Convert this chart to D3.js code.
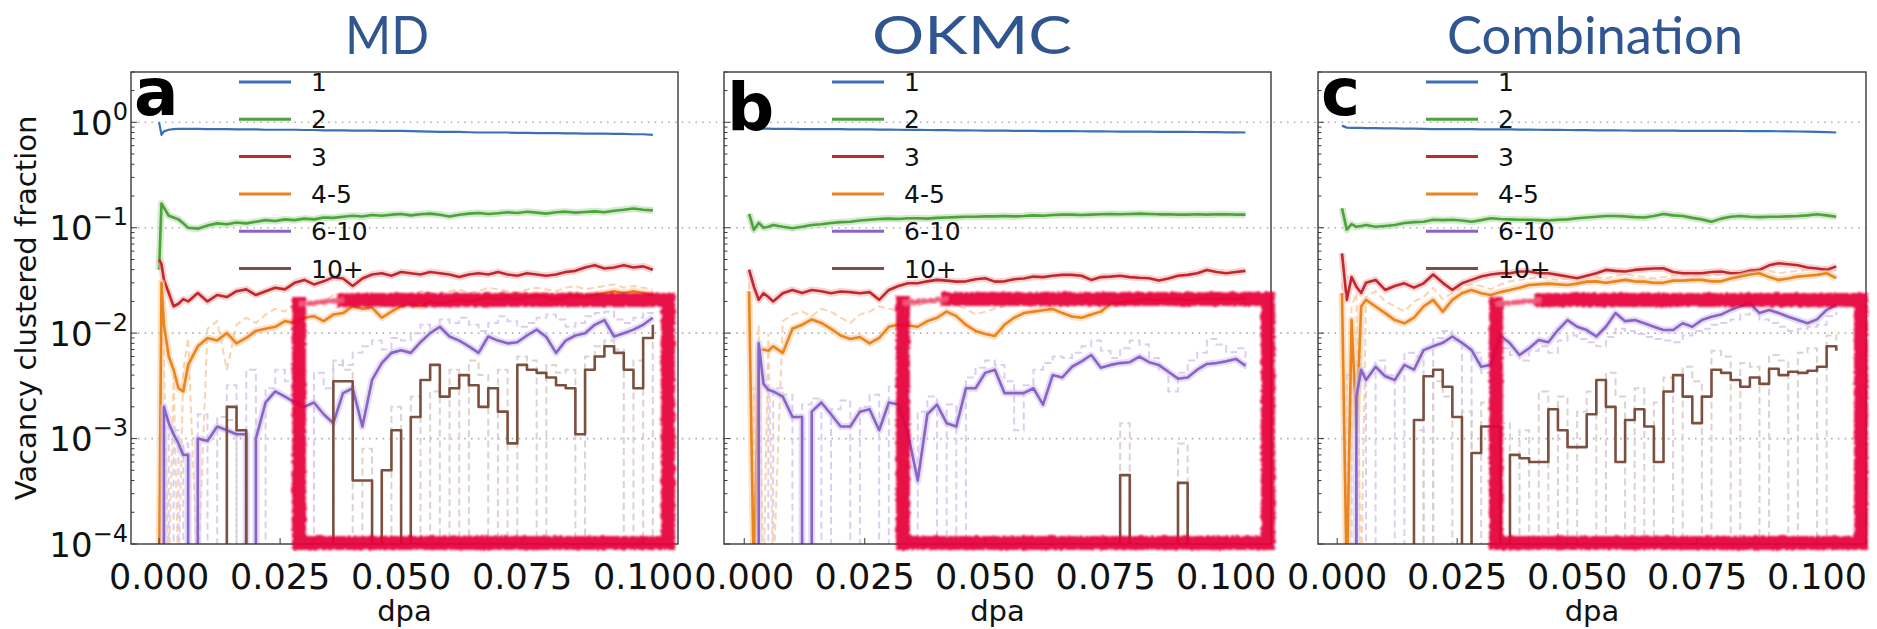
<!DOCTYPE html>
<html><head><meta charset="utf-8">
<script src="https://cdn.jsdelivr.net/npm/d3@7"></script>
<style>
html,body{margin:0;padding:0;background:#fff;}
svg{display:block;}
</style></head><body>
<svg id="chart" width="1877" height="629"></svg>
<script>
// ---------------- DATA ----------------
const panelTitles = ["MD", "OKMC", "Combination"];
const panelLetters = ["a", "b", "c"];
const seriesNames = ["1", "2", "3", "4-5", "6-10", "10+"];
const xTickValues = [0, 0.025, 0.05, 0.075, 0.1];
const xTickLabels = ["0.000", "0.025", "0.050", "0.075", "0.100"];
const yTickExponents = [0, -1, -2, -3, -4];
const yTickLabels = ["0", "\u22121", "\u22122", "\u22123", "\u22124"];

// dpa sampling positions (shared by all series)
const dpa = [0,0.0005,0.001,0.002,0.003,0.004,0.005,0.006,0.008,0.010,0.012,0.014,0.016,0.018,0.020,0.022,0.024,0.026,0.028,0.030,0.032,0.034,0.036,0.038,0.040,0.042,0.044,0.046,0.048,0.050,0.052,0.054,0.056,0.058,0.060,0.062,0.064,0.066,0.068,0.070,0.072,0.074,0.076,0.078,0.080,0.082,0.084,0.086,0.088,0.090,0.092,0.094,0.096,0.098,0.100,0.102,0.104];

// ---- MD (a) : averaged fractions ----
const mdS1 = [1.0,0.76,0.82,0.85,0.86,0.865,0.865,0.865,0.865,0.86, 0.86,0.86,0.855,0.855,0.855,0.85,0.85,0.85,0.85,0.845, 0.845,0.84,0.84,0.84,0.835,0.835,0.835,0.83,0.83,0.83, 0.825,0.82,0.815,0.81,0.81,0.81,0.805,0.80,0.80,0.80, 0.80,0.795,0.795,0.79,0.79,0.79,0.785,0.785,0.78,0.78, 0.78,0.775,0.775,0.77,0.77,0.76];
const mdS2 = [0.04,0.17,0.155,0.13,0.125,0.12,0.11,0.10,0.098,0.105, 0.11,0.108,0.112,0.11,0.114,0.118,0.116,0.12,0.118,0.122, 0.12,0.125,0.124,0.127,0.13,0.128,0.132,0.13,0.133,0.135, 0.131,0.134,0.136,0.133,0.128,0.133,0.136,0.138,0.135,0.137, 0.14,0.138,0.142,0.139,0.136,0.14,0.142,0.139,0.141,0.143, 0.14,0.145,0.148,0.152,0.148,0.146];
const mdS3 = [0.05,0.045,0.032,0.024,0.018,0.019,0.021,0.02,0.024,0.02, 0.023,0.022,0.025,0.026,0.023,0.025,0.027,0.026,0.03,0.032, 0.029,0.031,0.034,0.033,0.028,0.033,0.036,0.037,0.035,0.038, 0.037,0.036,0.038,0.037,0.036,0.034,0.036,0.037,0.036,0.038, 0.036,0.035,0.037,0.036,0.035,0.036,0.038,0.039,0.042,0.044, 0.041,0.042,0.044,0.042,0.043,0.040];
const mdS45 = [0,0.03,0.012,0.006,0.0045,0.003,0.0028,0.005,0.0075,0.009, 0.0085,0.01,0.008,0.009,0.0105,0.011,0.0115,0.013,0.0125,0.014, 0.0145,0.013,0.015,0.0155,0.018,0.017,0.0175,0.014,0.016,0.018, 0.019,0.018,0.02,0.019,0.02,0.021,0.02,0.021,0.022,0.021, 0.022,0.021,0.022,0.023,0.022,0.021,0.022,0.023,0.022,0.023, 0.024,0.025,0.024,0.025,0.024,0.023];
const mdS610 = [0,0,0.002,0.0014,0.0011,0.0009,0.0007,0,0.001,0.00095, 0.0013,0.0012,0.0011,0,0.001,0.0022,0.0028,0.0025,0.0022,0.002, 0.0022,0.0017,0.0014,0.0027,0.003,0.0013,0.0036,0.0052,0.0065,0.0069, 0.0065,0.0082,0.01,0.0115,0.0093,0.0085,0.0075,0.0065,0.0093,0.0085, 0.008,0.0082,0.0095,0.0108,0.0092,0.0065,0.0085,0.0095,0.01,0.012, 0.0133,0.0093,0.01,0.0108,0.012,0.014];
const mdS10p = [0,0,0,0,0,0,0,0,0,0, 0,0.002,0.0012,0,0,0,0,0,0,0, 0,0,0.0035,0.0035,0.0004,0.0004,0,0.0005,0.0012,0, 0.0016,0.0036,0.005,0.0025,0.003,0.004,0.0032,0.002,0.003,0.0018, 0.0009,0.005,0.0045,0.0042,0.0038,0.0032,0.003,0.0011,0.0045,0.006, 0.0075,0.0065,0.0045,0.003,0.009,0.012];
// MD individual runs (light dashed)
const mdRun45 = [0,0.02,0.006,0,0.004,0,0.0045,0.009,0,0.011, 0.013,0.0045,0.012,0.014,0.0125,0.015,0.017,0.016,0.019,0.021, 0.018,0.02,0.023,0.021,0.019,0.022,0.021,0.02,0.023,0.024, 0.022,0.025,0.024,0.023,0.025,0.026,0.024,0.025,0.027,0.026, 0.025,0.024,0.026,0.027,0.026,0.025,0.027,0.028,0.026,0.027, 0.028,0.029,0.027,0.028,0.027,0.026];
const mdRun610 = [0,0,0.0015,0,0.0012,0,0.0009,0,0.0017,0, 0.0016,0.0032,0,0.0045,0,0.003,0.0045,0.0035,0.004,0, 0.0042,0.003,0.0055,0.005,0.0065,0.0075,0.0085,0.007,0.009,0.0085, 0.01,0.012,0.011,0.0135,0.0125,0.014,0.012,0.0105,0.0125,0.0145, 0.013,0.0115,0.0125,0.014,0.015,0.0135,0.0115,0.0125,0.0145,0.0155, 0.016,0.0135,0.0125,0.014,0.0155,0.015];
const mdRun10p = [0,0,0,0,0,0,0,0,0,0, 0,0.0015,0,0,0,0,0,0,0,0, 0,0,0.005,0.0045,0,0.0008,0,0,0.002,0, 0.0025,0,0.0028,0,0.0045,0,0.0055,0.004,0,0.0045, 0,0.006,0.0055,0,0.005,0.0042,0.0045,0,0.006,0.0075, 0.0085,0.007,0,0.0055,0,0.012];

// ---- OKMC (b) ----
const okS1 = [null,null,0.92,0.86,0.865,0.87,0.87,0.865,0.865,0.865, 0.86,0.86,0.86,0.86,0.86,0.858,0.856,0.855,0.854,0.852, 0.85,0.848,0.846,0.845,0.843,0.842,0.84,0.838,0.836,0.835, 0.834,0.832,0.83,0.83,0.828,0.826,0.825,0.824,0.823,0.822, 0.82,0.819,0.818,0.817,0.816,0.815,0.814,0.813,0.812,0.811, 0.81,0.809,0.808,0.806,0.804,0.802,0.80];
const okS2 = [null,null,0.135,0.0955,0.111,0.10,0.102,0.106,0.102,0.099, 0.102,0.106,0.108,0.111,0.113,0.114,0.117,0.119,0.121,0.122, 0.121,0.123,0.123,0.122,0.124,0.125,0.126,0.127,0.127,0.128, 0.128,0.129,0.128,0.129,0.131,0.130,0.132,0.133,0.133,0.132, 0.133,0.134,0.135,0.134,0.135,0.136,0.135,0.134,0.134,0.133, 0.133,0.134,0.133,0.134,0.134,0.133,0.133];
const okS3 = [null,null,0.04,0.0276,0.0207,0.0239,0.022,0.02,0.0239,0.0257, 0.024,0.0257,0.025,0.0239,0.0248,0.0245,0.0239,0.0245,0.0207,0.0257, 0.028,0.0297,0.0297,0.031,0.032,0.0315,0.0308,0.031,0.0325,0.0332, 0.0308,0.031,0.0325,0.033,0.0344,0.034,0.035,0.0357,0.0357,0.035, 0.032,0.034,0.0344,0.035,0.034,0.0335,0.0332,0.0316,0.033,0.035, 0.0357,0.037,0.0398,0.038,0.037,0.038,0.039];
const okS45 = [null,null,0.025,0,0.0069,0.007,0.0068,0.0075,0.0065,0.011, 0.012,0.0135,0.0125,0.011,0.0095,0.0088,0.0092,0.008,0.009,0.0115, 0.012,0.0118,0.0115,0.013,0.014,0.016,0.0145,0.012,0.0105,0.0098, 0.0094,0.012,0.014,0.0155,0.016,0.0165,0.017,0.0155,0.0144,0.014, 0.015,0.016,0.019,0.0195,0.02,0.0205,0.021,0.0205,0.021,0.021, 0.0205,0.021,0.0215,0.021,0.0215,0.021,0.0215];
const okS610 = [null,null,0,0,0.008,0.0033,0.0029,0.0028,0.0025,0.0016, 0,0.0018,0.0022,0.0017,0.0013,0.0013,0.0018,0.0019,0.0012,0.0022, 0.0021,0.0011,0.0004,0.0017,0.0021,0.0014,0.0013,0.003,0.003,0.0042, 0.0045,0.0027,0.0027,0.0027,0.003,0.0021,0.004,0.0038,0.0048,0.0054, 0.0062,0.0047,0.005,0.0052,0.0053,0.006,0.0053,0.005,0.0043,0.0037, 0.0038,0.0045,0.0051,0.0052,0.0054,0.0057,0.0049];
const okS10p = [null,null,0,0,0,0,0,0,0,0, 0,0,0,0,0,0,0,0,0,0, 0,0,0,0,0,0,0,0,0,0, 0,0,0,0,0,0,0,0,0,0, 0,0,0,0.00045,0,0,0,0,0,0.00038, 0,0,0,0,0,0,0];
const okRun45 = [null,null,0.03,0,0.012,0,0.01,0,0.013,0.015, 0.016,0.0145,0.017,0.016,0.014,0.0125,0.015,0.016,0.018,0.017, 0.0165,0.019,0.018,0.02,0.019,0.021,0.0185,0.017,0.015,0.016, 0.017,0.018,0.02,0.021,0.022,0.021,0.02,0.019,0.018,0.019, 0.021,0.022,0.023,0.022,0.023,0.024,0.023,0.022,0.023,0.024, 0.023,0.022,0.023,0.024,0.023,0.023,0.022];
const okRun610 = [null,null,0.003,0,0.004,0.0032,0,0.003,0.0026,0, 0.0021,0.0024,0,0.0019,0.0023,0,0.002,0.0026,0,0.0031, 0.0028,0,0.0018,0.0025,0,0.0021,0,0.0038,0.0047,0.0055, 0.005,0.0035,0.0012,0.0032,0.0045,0.0052,0.006,0.0058,0.0065,0.0075, 0.0085,0.0068,0.0058,0.0072,0.0085,0.0078,0.0058,0.0045,0.0028,0.0042, 0.0055,0.0065,0.0088,0.0078,0.0066,0.0072,0.0045];
const okRun10p = [null,null,0,0,0,0,0,0,0,0, 0,0,0,0,0,0,0,0,0,0, 0,0,0,0,0,0,0,0,0,0, 0,0,0,0,0,0,0,0,0,0, 0,0,0,0.0014,0,0,0,0,0,0.0009, 0,0,0,0,0,0,0];

// ---- Combination (c) ----
const coS1 = [null,null,0.93,0.89,0.885,0.885,0.885,0.88,0.88,0.875, 0.875,0.87,0.87,0.865,0.86,0.86,0.86,0.86,0.86,0.858, 0.856,0.855,0.855,0.853,0.852,0.85,0.848,0.846,0.845,0.843, 0.842,0.84,0.84,0.838,0.836,0.835,0.834,0.833,0.832,0.832, 0.831,0.83,0.83,0.83,0.829,0.828,0.827,0.826,0.825,0.823, 0.822,0.82,0.818,0.815,0.812,0.808,0.80];
const coS2 = [null,null,0.153,0.096,0.108,0.102,0.104,0.106,0.102,0.104, 0.106,0.111,0.113,0.114,0.119,0.118,0.119,0.117,0.114,0.118, 0.123,0.121,0.12,0.119,0.119,0.118,0.117,0.119,0.12,0.123, 0.125,0.127,0.129,0.129,0.128,0.126,0.125,0.129,0.135,0.131, 0.129,0.124,0.12,0.114,0.122,0.127,0.129,0.127,0.126,0.127, 0.127,0.128,0.129,0.131,0.134,0.131,0.127];
const coS3 = [null,null,0.057,0.0207,0.034,0.0276,0.024,0.03,0.032,0.0257, 0.028,0.0297,0.027,0.0297,0.036,0.03,0.0257,0.0297,0.032,0.0344, 0.036,0.037,0.037,0.0384,0.0384,0.037,0.037,0.0357,0.0344,0.0332, 0.035,0.037,0.0398,0.039,0.0384,0.0398,0.0405,0.041,0.0413,0.038, 0.037,0.037,0.037,0.038,0.0384,0.037,0.037,0.039,0.0398,0.044, 0.046,0.045,0.044,0.042,0.041,0.0398,0.043];
const coS45 = [null,null,0.024,0,0.0133,0.0013,0.0179,0.0207,0.0179,0.0155, 0.0133,0.0124,0.014,0.0179,0.0207,0.016,0.0207,0.0239,0.0257,0.0239, 0.023,0.0245,0.0257,0.027,0.0286,0.029,0.0295,0.029,0.0286,0.0295, 0.0308,0.031,0.030,0.031,0.032,0.031,0.0308,0.030,0.030,0.0315, 0.0315,0.032,0.032,0.031,0.031,0.033,0.0344,0.036,0.037,0.034, 0.032,0.033,0.0344,0.035,0.0357,0.037,0.0332];
const coS610 = [null,null,0,0,0,0.0025,0.0045,0.0036,0.0048,0.0039, 0.0036,0.005,0.0045,0.0069,0.0075,0.0081,0.0093,0.0081,0.0069,0.0048, 0.005,0.0095,0.008,0.0062,0.0072,0.0086,0.0082,0.0107,0.0133,0.0115, 0.0107,0.0093,0.0115,0.0155,0.013,0.0133,0.0124,0.0115,0.0107,0.0107, 0.0124,0.0115,0.0133,0.0143,0.015,0.0166,0.018,0.0192,0.0155,0.0166, 0.0155,0.0143,0.0133,0.0124,0.0135,0.0166,0.0185];
const coS10p = [null,null,0,0,0,0,0,0,0,0, 0,0,0.0015,0.0039,0.0045,0.0031,0.0016,0,0.00073,0.0013, 0.0013,0,0.0007,0.00065,0.0006,0.0006,0.0019,0.0012,0.00083,0.00083, 0.0017,0.0036,0.002,0.0006,0.0015,0.0019,0.0013,0.0006,0.0028,0.004, 0.0025,0.0014,0.0025,0.0045,0.0042,0.0036,0.0031,0.0038,0.0033,0.0046, 0.004,0.0043,0.0042,0.0044,0.0048,0.0075,0.0068];
const coRun45 = [null,null,0.03,0,0.018,0.024,0,0.022,0.025,0.02, 0.018,0.016,0.02,0.022,0.027,0.021,0.024,0.027,0.029,0.028, 0.026,0.029,0.031,0.032,0.033,0.034,0.033,0.032,0.033,0.034, 0.035,0.034,0.033,0.035,0.036,0.035,0.034,0.033,0.034,0.035, 0.036,0.035,0.036,0.035,0.036,0.037,0.039,0.04,0.041,0.039, 0.037,0.038,0.039,0.04,0.041,0.042,0.039];
const coRun610 = [null,null,0,0.004,0,0.006,0.0035,0,0.0055,0.004, 0,0.0065,0.006,0,0.009,0.0105,0.0085,0,0.0065,0.0042, 0,0.0072,0.0062,0.0055,0.0068,0.0075,0.0065,0.0085,0.0095,0.0088, 0.0082,0.0075,0.0092,0.011,0.0105,0.0098,0.0092,0.0088,0.0085,0.0082, 0.0095,0.0105,0.011,0.012,0.0125,0.0135,0.015,0.0165,0.0135,0.0125, 0.0115,0.0105,0.011,0.0115,0.012,0.0145,0.016];
const coRun10p = [null,null,0,0,0,0,0,0,0,0, 0,0,0.0012,0,0.0035,0.0025,0,0.0018,0,0.0022, 0,0.0014,0,0.0012,0,0.0028,0,0.0025,0,0.0018, 0.0028,0,0.0042,0.0025,0,0.003,0,0.0022,0.0038,0, 0.0048,0.0035,0,0.0068,0.006,0,0.0052,0.0048,0,0.0062, 0.0055,0,0.0065,0.0072,0,0.0095,0.0085];

// ---------------- LAYOUT / STYLE ----------------
const seriesColors = ["#3b6fb6", "#4ca23b", "#c1282e", "#ea841e", "#8964c6", "#7c4f3f"];
const runColors = ["#a9c1e4", "#b6dcab", "#efb7b5", "#f7cda4", "#d3c7ee", "#d6cbc7"];
const panelMain = [
  [mdS1, mdS2, mdS3, mdS45, mdS610, mdS10p],
  [okS1, okS2, okS3, okS45, okS610, okS10p],
  [coS1, coS2, coS3, coS45, coS610, coS10p]
];
const panelRuns = [
  [mdRun45, mdRun610, mdRun10p],
  [okRun45, okRun610, okRun10p],
  [coRun45, coRun610, coRun10p]
];
const panelLeft = [131, 724, 1318];
const panelRight = [678, 1271, 1866];
const xDomains = [[-0.0058, 0.1072], [-0.0042, 0.1093], [-0.0040, 0.1102]];
const titleX = [387, 972, 1595];
const titleLen = [84, 200, 296];
const letterBase = [115, 130, 115];
const rectBox = [[299, 300, 668, 543], [903, 299, 1268, 543], [1496, 300, 1861, 543]];
const TOP = 72, BOTTOM = 544;

const svg = d3.select("#chart");
const defs = svg.append("defs");
const filt = defs.append("filter").attr("id", "rough").attr("x", "-5%").attr("y", "-5%").attr("width", "110%").attr("height", "110%");
filt.append("feTurbulence").attr("type", "fractalNoise").attr("baseFrequency", "0.35").attr("numOctaves", 2).attr("seed", 4).attr("result", "noise");
filt.append("feDisplacementMap").attr("in", "SourceGraphic").attr("in2", "noise").attr("scale", 4).attr("xChannelSelector", "R").attr("yChannelSelector", "G").attr("result", "disp");
filt.append("feGaussianBlur").attr("in", "disp").attr("stdDeviation", 0.9);

const y = d3.scaleLog().domain([1e-4, 3.0]).range([BOTTOM, TOP]);
const yPos = v => (v <= 0 ? BOTTOM + 40 : y(v));

// dotted horizontal gridlines across all panels
[0, -1, -2, -3].forEach(e => {
  svg.append("line")
    .attr("x1", panelLeft[0]).attr("x2", panelRight[2])
    .attr("y1", y(Math.pow(10, e))).attr("y2", y(Math.pow(10, e)))
    .attr("stroke", "#b0b0b0").attr("stroke-width", 1.6)
    .attr("stroke-dasharray", "1.6,5.2");
});

panelTitles.forEach((title, p) => {
  const L = panelLeft[p], R = panelRight[p];
  const x = d3.scaleLinear().domain(xDomains[p]).range([L, R]);
  const g = svg.append("g");

  defs.append("clipPath").attr("id", "clip" + p)
    .append("rect").attr("x", L).attr("y", TOP).attr("width", R - L).attr("height", BOTTOM - TOP);

  const plot = g.append("g").attr("clip-path", `url(#clip${p})`);

  const mkLine = (step) => d3.line()
    .defined(d => d.v !== null && d.v !== undefined)
    .x(d => x(d.x)).y(d => yPos(d.v))
    .curve(step ? d3.curveStepAfter : d3.curveLinear);

  const toPts = arr => arr.map((v, i) => ({ x: dpa[i], v: v }));
  // linear path, but vertical drops to / rises from zero (as in the sampled data)
  const toPtsVerticalZeros = arr => {
    const out = [];
    arr.forEach((v, i) => {
      if (i > 0 && v !== null && arr[i - 1] !== null) {
        if (v === 0 && arr[i - 1] > 0) out.push({ x: dpa[i], v: arr[i - 1] });
        if (v > 0 && arr[i - 1] === 0) out.push({ x: dpa[i], v: 0 });
      }
      out.push({ x: dpa[i], v: v });
    });
    return out;
  };

  // light dashed individual runs
  const runIdx = [3, 4, 5];
  panelRuns[p].forEach((arr, k) => {
    const si = runIdx[k];
    plot.append("path")
      .attr("d", mkLine(si >= 4)(toPts(arr)))
      .attr("fill", "none").attr("stroke", runColors[si])
      .attr("stroke-width", 2).attr("stroke-dasharray", "7,4")
      .attr("opacity", 0.85);
  });

  // main averaged series
  panelMain[p].forEach((arr, si) => {
    const step = si === 5;
    const pts = si === 4 ? toPtsVerticalZeros(arr) : toPts(arr);
    const d = mkLine(step)(pts);
    if (si >= 1 && si <= 4) {
      plot.append("path").attr("d", d).attr("fill", "none")
        .attr("stroke", runColors[si]).attr("stroke-width", 7)
        .attr("stroke-linejoin", "round").attr("opacity", 0.6);
    }
    plot.append("path").attr("d", d).attr("fill", "none")
      .attr("stroke", seriesColors[si])
      .attr("stroke-width", si === 0 ? 2.2 : 2.6)
      .attr("stroke-linejoin", "round");
  });

  // frame
  g.append("rect").attr("x", L).attr("y", TOP).attr("width", R - L).attr("height", BOTTOM - TOP)
    .attr("fill", "none").attr("stroke", "#3a3a3a").attr("stroke-width", 1.4);

  // y ticks (inward)
  for (let e = -4; e <= 0; e++) {
    for (let m = 1; m <= 9; m++) {
      const v = m * Math.pow(10, e);
      if (v > 3.0) continue;
      const len = m === 1 ? 6 : 3.5;
      g.append("line").attr("x1", L).attr("x2", L + len)
        .attr("y1", y(v)).attr("y2", y(v))
        .attr("stroke", "#3a3a3a").attr("stroke-width", 1);
    }
  }
  // x ticks (inward) + labels
  xTickValues.forEach((tv, i) => {
    g.append("line").attr("x1", x(tv)).attr("x2", x(tv))
      .attr("y1", BOTTOM).attr("y2", BOTTOM - 6)
      .attr("stroke", "#3a3a3a").attr("stroke-width", 1);
    g.append("text").attr("x", x(tv)).attr("y", 589)
      .attr("text-anchor", "middle")
      .attr("font-family", "DejaVu Sans").attr("font-size", 35)
      .attr("fill", "#111").text(xTickLabels[i]);
  });

  // x axis label
  g.append("text").attr("x", (L + R) / 2).attr("y", 621)
    .attr("text-anchor", "middle").attr("font-family", "DejaVu Sans")
    .attr("font-size", 29).attr("fill", "#111").text("dpa");

  // legend
  seriesNames.forEach((name, si) => {
    const cy = 82 + si * 37.3;
    g.append("line").attr("x1", L + 108).attr("x2", L + 160)
      .attr("y1", cy).attr("y2", cy)
      .attr("stroke", seriesColors[si]).attr("stroke-width", 3);
    g.append("text").attr("x", L + 180).attr("y", cy + 9)
      .attr("font-family", "DejaVu Sans").attr("font-size", 25)
      .attr("fill", "#111").text(name);
  });

  // panel letter
  g.append("text").attr("x", L + 3).attr("y", letterBase[p])
    .attr("font-family", "DejaVu Sans").attr("font-weight", "bold")
    .attr("font-size", 66).attr("fill", "#000").text(panelLetters[p]);

  // title
  svg.append("text").attr("x", titleX[p]).attr("y", 54)
    .attr("text-anchor", "middle").attr("font-family", "Lato, 'Open Sans', sans-serif")
    .attr("font-size", 52).attr("fill", "#2f5690")
    .attr("textLength", titleLen[p]).attr("lengthAdjust", "spacingAndGlyphs")
    .text(title);

  // red hand-drawn highlight box
  const [rx0, ry0, rx1, ry1] = rectBox[p];
  const rg = svg.append("g").attr("filter", "url(#rough)").attr("opacity", 0.93);
  rg.append("path")
    .attr("d", `M${rx0 + 45},${ry0} L${rx1},${ry0} L${rx1},${ry1} L${rx0},${ry1} L${rx0},${ry0 + 4}`)
    .attr("fill", "none").attr("stroke", "#e6003b").attr("stroke-width", 14)
    .attr("stroke-linejoin", "miter").attr("stroke-linecap", "square");
  rg.append("path")
    .attr("d", `M${rx0},${ry0 + 4} L${rx0 + 45},${ry0}`)
    .attr("fill", "none").attr("stroke", "#ee4d72").attr("stroke-width", 5);
});

// y tick labels (panel a only)
yTickExponents.forEach((e, i) => {
  const t = svg.append("text").attr("x", 128).attr("y", y(Math.pow(10, e)) + 12.5)
    .attr("text-anchor", "end").attr("font-family", "DejaVu Sans")
    .attr("font-size", 34).attr("fill", "#111");
  t.append("tspan").text("10");
  t.append("tspan").attr("dy", -15).attr("font-size", 24).text(yTickLabels[i]);
});

// y axis title
svg.append("text")
  .attr("transform", `translate(36,${(TOP + BOTTOM) / 2}) rotate(-90)`)
  .attr("text-anchor", "middle").attr("font-family", "DejaVu Sans")
  .attr("font-size", 29).attr("fill", "#111")
  .text("Vacancy clustered fraction");
</script>
</body></html>
